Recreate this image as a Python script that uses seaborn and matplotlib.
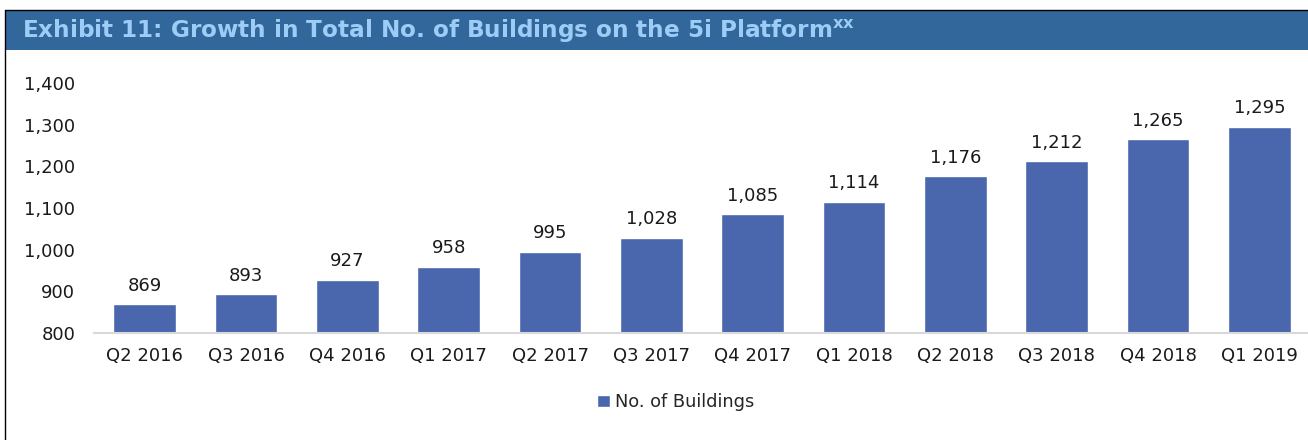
import matplotlib
matplotlib.use("Agg")
import matplotlib.pyplot as plt
import seaborn as sns
import pandas as pd
from matplotlib.patches import Rectangle
from matplotlib.lines import Line2D

quarters = ["Q2 2016", "Q3 2016", "Q4 2016", "Q1 2017", "Q2 2017", "Q3 2017",
            "Q4 2017", "Q1 2018", "Q2 2018", "Q3 2018", "Q4 2018", "Q1 2019"]
buildings = [869, 893, 927, 958, 995, 1028, 1085, 1114, 1176, 1212, 1265, 1295]
y_ticks = [800, 900, 1000, 1100, 1200, 1300, 1400]

BAR_COLOR = "#4A66AC"
HEADER_COLOR = "#31679A"
TITLE_COLOR = "#9DCCF7"

sns.set_theme(style="white")
plt.rcParams["font.family"] = ["DejaVu Sans"]

df = pd.DataFrame({"Quarter": quarters, "Buildings": buildings})

W, H = 1308, 440
fig = plt.figure(figsize=(W / 100, H / 100), dpi=100)

# header band + frame
fig.patches.append(Rectangle((5 / W, 1 - 50 / H), 1 - 5 / W, 40 / H, transform=fig.transFigure,
                             facecolor=HEADER_COLOR, edgecolor="none", zorder=0))
fig.lines.append(Line2D([5 / W, 1], [1 - 10 / H, 1 - 10 / H], transform=fig.transFigure,
                        color="black", linewidth=1))
fig.lines.append(Line2D([5 / W, 5 / W], [0, 1 - 10 / H], transform=fig.transFigure,
                        color="black", linewidth=1))
fig.text(22 / W, 1 - 31 / H, r"Exhibit 11: Growth in Total No. of Buildings on the 5i Platform$^{\mathbf{xx}}$",
         color=TITLE_COLOR, fontsize=16.7, weight="bold", va="center", ha="left")

ax = fig.add_axes([94 / W, 107 / H, (1310 - 94) / W, (357 - 107) / H])
sns.barplot(data=df, x="Quarter", y="Buildings", color=BAR_COLOR, width=0.62,
            saturation=1, ax=ax, label="No. of Buildings")
ax.set_ylim(800, 1400)
ax.set_xlim(-0.5, len(quarters) - 0.5)
ax.set_yticks(y_ticks)
ax.set_yticklabels([f"{v:,}" for v in y_ticks], fontsize=13, color="#1a1a1a")
ax.tick_params(axis="x", labelsize=13, colors="#1a1a1a", pad=10, length=0)
ax.tick_params(axis="y", pad=13.5, length=0)
ax.set_xlabel("")
ax.set_ylabel("")
for s in ["top", "right", "left"]:
    ax.spines[s].set_visible(False)
ax.spines["bottom"].set_color("#D9D9D9")
ax.spines["bottom"].set_linewidth(1.5)
ax.spines["bottom"].set_clip_on(False)

for p, v in zip(ax.patches, buildings):
    ax.annotate(f"{v:,}", (p.get_x() + p.get_width() / 2, p.get_height()),
                xytext=(0, 7), textcoords="offset points", ha="center", va="bottom",
                fontsize=13, color="#1a1a1a")

leg = ax.legend(loc="center", bbox_to_anchor=(676 / W, 1 - 402 / H), bbox_transform=fig.transFigure,
                frameon=False, fontsize=12.8, handlelength=0.7, handleheight=0.7, handletextpad=0.3)

fig.savefig("out.png", dpi=100)
